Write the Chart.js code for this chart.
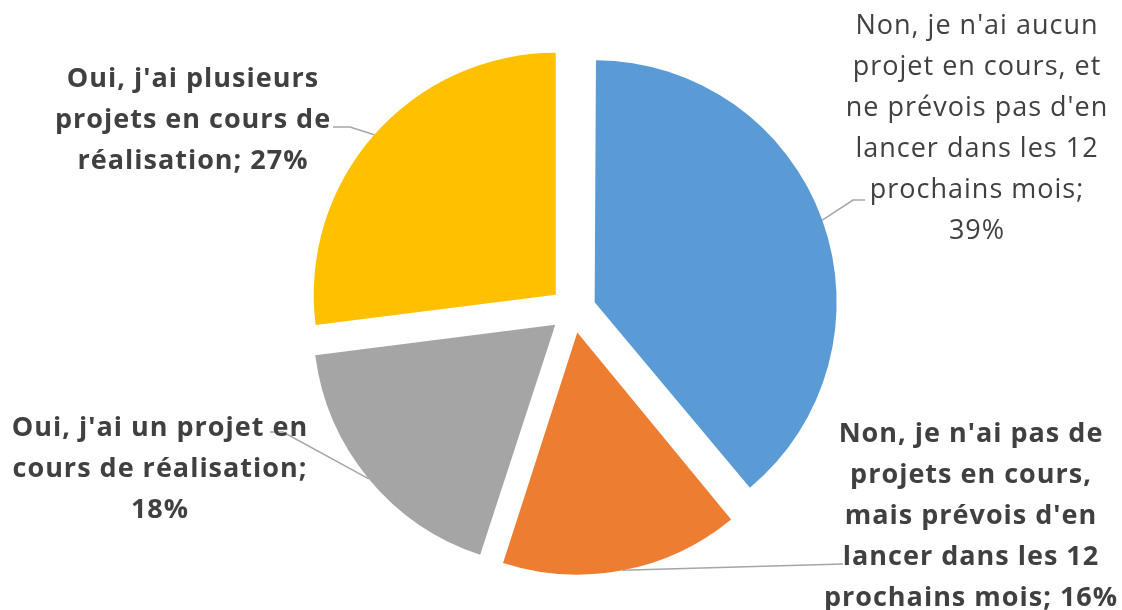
<!DOCTYPE html>
<html>
<head>
<meta charset="utf-8">
<script src="https://cdn.jsdelivr.net/npm/chart.js@4"></script>
<style>
  html, body { margin: 0; padding: 0; background: #fff; }
  #wrap { width: 1122px; height: 610px; }
</style>
</head>
<body>
<div id="wrap"><canvas id="chart" width="1122" height="610"></canvas></div>
<script>
// data, clockwise from 12 o'clock
const categories = [
    "Non, je n'ai aucun\nprojet en cours, et\nne prévois pas d'en\nlancer dans les 12\nprochains mois",
    "Non, je n'ai pas de\nprojets en cours,\nmais prévois d'en\nlancer dans les 12\nprochains mois",
    "Oui, j'ai un projet en\ncours de réalisation",
    "Oui, j'ai plusieurs\nprojets en cours de\nréalisation"
];
const values = [39, 16, 18, 27];
const percentBreak = ['\n', ' ', '\n', ' ']; // what comes between "; " and the percent
const colors = ['#5B9BD5', '#ED7D31', '#A5A5A5', '#FFC000'];
const boldLabel = [false, true, true, true];

// label layout: centre of first line, then leader points from label side
const labelPos = [[977, 26], [971, 434], [160, 428], [193, 79]];
const leaderPts = [
    [[865, 200], [853, 200]],
    [[843, 564]],
    [[270, 432], [283, 432]],
    [[333, 127], [350, 127]]
];

const RADIUS = 242;
const OFFSET = 92;   // chart.js translates arcs by offset/4
const LINE_H = 41;
const FONT_SIZE = 27;
const FONT = '"Open Sans"';

// chart.js grows small slices by (offset/4)*(1-sin(circ)); undo that so all radii match
const radiusFix = {
    id: 'radiusFix',
    afterDatasetsUpdate(chart) {
        const meta = chart.getDatasetMeta(0);
        meta.data.forEach(arc => {
            const off = OFFSET / 4;
            const fix = 1 - Math.sin(Math.min(Math.PI, arc.circumference));
            arc.outerRadius = RADIUS - off * fix;
        });
    }
};

const pieLabels = {
    id: 'pieLabels',
    afterDraw(chart) {
        const ctx = chart.ctx;
        const meta = chart.getDatasetMeta(0);
        ctx.save();
        meta.data.forEach((arc, i) => {
            const mid = (arc.startAngle + arc.endAngle) / 2;
            const off = OFFSET / 4;
            const cx = arc.x + Math.cos(mid) * off;
            const cy = arc.y + Math.sin(mid) * off;
            const ax = cx + Math.cos(mid) * RADIUS;
            const ay = cy + Math.sin(mid) * RADIUS;

            // leader line
            ctx.strokeStyle = '#A6A6A6';
            ctx.lineWidth = 1.5;
            ctx.beginPath();
            const pts = leaderPts[i];
            ctx.moveTo(pts[0][0], pts[0][1]);
            for (let k = 1; k < pts.length; k++) ctx.lineTo(pts[k][0], pts[k][1]);
            ctx.lineTo(ax, ay);
            ctx.stroke();

            // text
            const text = categories[i] + ';' + percentBreak[i] + values[i] + '%';
            const lines = text.split('\n');
            ctx.fillStyle = '#404040';
            ctx.font = (boldLabel[i] ? 'bold ' : '') + FONT_SIZE + 'px ' + FONT;
            ctx.letterSpacing = '1px';
            ctx.textAlign = 'center';
            ctx.textBaseline = 'middle';
            lines.forEach((ln, j) => {
                ctx.fillText(ln, labelPos[i][0], labelPos[i][1] + j * LINE_H);
            });
        });
        ctx.restore();
    }
};

new Chart(document.getElementById('chart'), {
    type: 'pie',
    data: {
        labels: categories,
        datasets: [{
            data: values,
            backgroundColor: colors,
            borderWidth: 0,
            offset: OFFSET
        }]
    },
    options: {
        responsive: false,
        animation: false,
        radius: RADIUS,
        layout: { padding: { left: 24, right: 0, top: 10, bottom: 0 } },
        plugins: {
            legend: { display: false },
            tooltip: { enabled: false }
        }
    },
    plugins: [radiusFix, pieLabels]
});
</script>
</body>
</html>
